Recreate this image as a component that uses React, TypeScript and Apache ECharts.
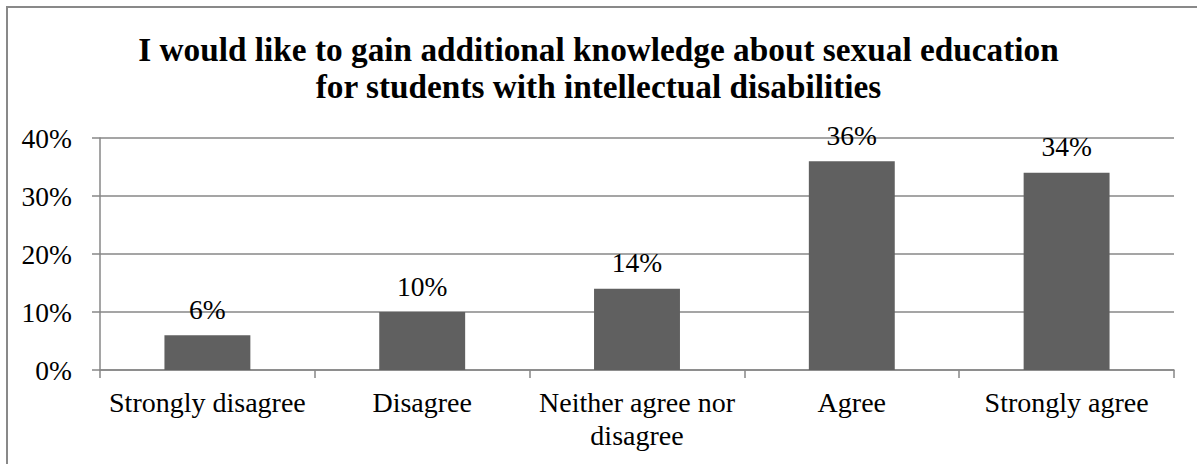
import React, { useEffect, useRef } from "react";
import * as echarts from "echarts";

const categories = [
  "Strongly disagree",
  "Disagree",
  "Neither agree nor\ndisagree",
  "Agree",
  "Strongly agree",
];
const percentages = [6, 10, 14, 36, 34];
const yTicks = { min: 0, max: 40, interval: 10 };

const titleText =
  "I would like to gain additional knowledge about sexual education\nfor students with intellectual disabilities";

const serif = "'Liberation Serif', 'Times New Roman', serif";
const gridGray = "#878787";

export default function App() {
  const ref = useRef<HTMLDivElement>(null);

  useEffect(() => {
    document.body.style.margin = "0";
    if (!ref.current) return;
    const chart = echarts.init(ref.current, null, { renderer: "svg" });
    chart.setOption({
      animation: false,
      backgroundColor: "#ffffff",
      title: {
        text: titleText,
        left: "center",
        top: 26,
        textStyle: {
          fontFamily: serif,
          fontSize: 33.3,
          fontWeight: "bold",
          color: "#000",
          lineHeight: 37,
        },
      },
      graphic: [
        {
          type: "rect",
          shape: { x: 7, y: 7, width: 1400, height: 700 },
          style: { fill: "none", stroke: "#898989", lineWidth: 2 },
          silent: true,
        },
      ],
      grid: { left: 100, right: 23, top: 138, bottom: 94 },
      xAxis: {
        type: "category",
        data: categories,
        axisLine: { lineStyle: { color: gridGray, width: 1.5 } },
        axisTick: { show: true, length: 8, lineStyle: { color: gridGray, width: 1.5 } },
        axisLabel: {
          fontFamily: serif,
          fontSize: 28,
          lineHeight: 33,
          color: "#000",
          margin: 16,
          interval: 0,
        },
      },
      yAxis: {
        type: "value",
        min: yTicks.min,
        max: yTicks.max,
        interval: yTicks.interval,
        axisLine: { show: true, lineStyle: { color: gridGray, width: 1.5 } },
        axisTick: { show: true, length: 8, lineStyle: { color: gridGray, width: 1.5 } },
        splitLine: { show: true, lineStyle: { color: gridGray, width: 1.5 } },
        axisLabel: {
          fontFamily: serif,
          fontSize: 27.5,
          color: "#000",
          margin: 28,
          formatter: (v: number) => `${v}%`,
        },
      },
      series: [
        {
          type: "bar",
          data: percentages,
          barWidth: "40%",
          itemStyle: { color: "#606060" },
          label: {
            show: true,
            position: "top",
            distance: 12,
            fontFamily: serif,
            fontSize: 27.5,
            color: "#000",
            formatter: (p: any) => `${p.value}%`,
          },
        },
      ],
    });
    return () => chart.dispose();
  }, []);

  return <div ref={ref} style={{ width: 1197, height: 464 }} />;
}
